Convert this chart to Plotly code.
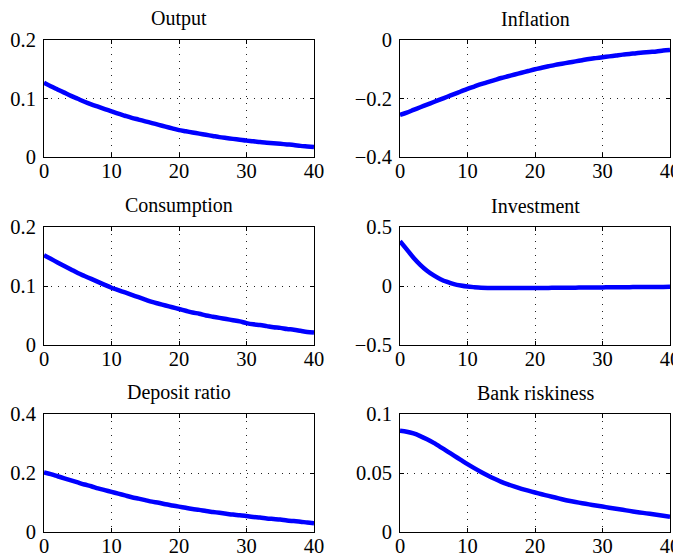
import plotly.graph_objects as go

periods = list(range(41))

titles = ["Output", "Inflation", "Consumption", "Investment", "Deposit ratio", "Bank riskiness"]

output = [0.127, 0.121, 0.1155, 0.110, 0.1045, 0.0995, 0.0945, 0.090, 0.086, 0.082,
          0.078, 0.074, 0.0705, 0.067, 0.064, 0.061, 0.058, 0.055, 0.052, 0.049,
          0.046, 0.044, 0.042, 0.040, 0.038, 0.036, 0.034, 0.0325, 0.031, 0.0295,
          0.028, 0.027, 0.0255, 0.0245, 0.0235, 0.0225, 0.0215, 0.0205, 0.019, 0.018, 0.017]

inflation = [-0.256, -0.248, -0.239, -0.230, -0.221, -0.212, -0.203, -0.194, -0.185, -0.176,
             -0.167, -0.159, -0.151, -0.144, -0.137, -0.130, -0.124, -0.118, -0.112, -0.106,
             -0.100, -0.095, -0.090, -0.085, -0.081, -0.077, -0.073, -0.069, -0.065, -0.062,
             -0.059, -0.056, -0.053, -0.050, -0.048, -0.045, -0.043, -0.041, -0.039, -0.036, -0.034]

consumption = [0.152, 0.146, 0.140, 0.134, 0.128, 0.122, 0.117, 0.112, 0.107, 0.102,
               0.097, 0.093, 0.089, 0.085, 0.081, 0.077, 0.073, 0.070, 0.067, 0.064,
               0.061, 0.058, 0.055, 0.053, 0.050, 0.048, 0.046, 0.044, 0.042, 0.040,
               0.037, 0.035, 0.034, 0.032, 0.030, 0.029, 0.027, 0.026, 0.024, 0.022, 0.021]

investment = [0.380, 0.310, 0.240, 0.180, 0.130, 0.090, 0.058, 0.034, 0.016, 0.004,
              -0.005, -0.010, -0.014, -0.016, -0.017, -0.018, -0.018, -0.018, -0.018, -0.017,
              -0.017, -0.016, -0.016, -0.015, -0.015, -0.014, -0.014, -0.013, -0.013, -0.012,
              -0.012, -0.011, -0.011, -0.010, -0.010, -0.009, -0.009, -0.008, -0.008, -0.008, -0.007]

deposit_ratio = [0.202, 0.196, 0.189, 0.182, 0.175, 0.168, 0.161, 0.155, 0.148, 0.142,
                 0.136, 0.130, 0.124, 0.118, 0.113, 0.108, 0.103, 0.099, 0.094, 0.090,
                 0.086, 0.082, 0.078, 0.075, 0.071, 0.068, 0.065, 0.062, 0.059, 0.057,
                 0.054, 0.051, 0.049, 0.046, 0.044, 0.042, 0.039, 0.037, 0.035, 0.032, 0.030]

bank_riskiness = [0.0858, 0.0850, 0.0835, 0.0813, 0.0786, 0.0755, 0.0720, 0.0684, 0.0647, 0.0611,
                  0.0575, 0.0541, 0.0509, 0.0479, 0.0451, 0.0425, 0.0403, 0.0384, 0.0366, 0.0350,
                  0.0335, 0.0320, 0.0306, 0.0292, 0.0278, 0.0265, 0.0254, 0.0244, 0.0234, 0.0225,
                  0.0216, 0.0206, 0.0197, 0.0188, 0.0179, 0.0170, 0.0162, 0.0154, 0.0146, 0.0138, 0.0130]

series = [output, inflation, consumption, investment, deposit_ratio, bank_riskiness]

x_ticks = [0, 10, 20, 30, 40]
y_ticks = [
    [0, 0.1, 0.2],
    [-0.4, -0.2, 0],
    [0, 0.1, 0.2],
    [-0.5, 0, 0.5],
    [0, 0.2, 0.4],
    [0, 0.05, 0.1],
]
y_tick_labels = [
    ["0", "0.1", "0.2"],
    ["\u22120.4", "\u22120.2", "0"],
    ["0", "0.1", "0.2"],
    ["\u22120.5", "0", "0.5"],
    ["0", "0.2", "0.4"],
    ["0", "0.05", "0.1"],
]

# page body has an 8px margin, so the figure starts at (8, 8) of the window
OFF = 8
W, H = 681 - OFF, 560 - OFF
col_px = [(44 - OFF, 314 - OFF), (400 - OFF, 670 - OFF)]
row_px = [(40 - OFF, 157 - OFF), (227 - OFF, 345 - OFF), (414 - OFF, 532 - OFF)]

FONT = "Liberation Serif, Times New Roman, serif"

fig = go.Figure()
layout = dict(
    template="none",
    width=W, height=H,
    margin=dict(l=0, r=0, t=0, b=0, pad=0, autoexpand=False),
    paper_bgcolor="white", plot_bgcolor="white",
    showlegend=False,
    font=dict(family=FONT, size=20, color="black"),
    annotations=[],
)

for i, (title, ys) in enumerate(zip(titles, series)):
    r, c = divmod(i, 2)
    n = i + 1
    xa = f"x{n}" if n > 1 else "x"
    ya = f"y{n}" if n > 1 else "y"
    fig.add_trace(go.Scatter(x=periods, y=ys, mode="lines",
                             line=dict(color="#0000ff", width=4.5, shape="spline", smoothing=0.8),
                             xaxis=xa, yaxis=ya, hoverinfo="skip", cliponaxis=True))
    x0, x1 = col_px[c]
    t0, t1 = row_px[r]
    xdom = [x0 / W, x1 / W]
    ydom = [1 - t1 / H, 1 - t0 / H]
    axis_common = dict(
        automargin=False,
        showline=True, linecolor="black", linewidth=1, mirror="ticks",
        ticks="inside", ticklen=4, tickcolor="black", tickwidth=1,
        showgrid=True, gridcolor="#222222", gridwidth=1, griddash="1px,6px",
        zeroline=False, tickfont=dict(family=FONT, size=20.5, color="black"),
        fixedrange=True, layer="below traces", ticklabeloverflow="allow",
    )
    layout[f"xaxis{n}" if n > 1 else "xaxis"] = dict(
        axis_common, domain=xdom, anchor=ya, range=[0, 40],
        tickvals=x_ticks, ticktext=[str(v) for v in x_ticks], ticklabelstandoff=-5,
    )
    layout[f"yaxis{n}" if n > 1 else "yaxis"] = dict(
        axis_common, domain=ydom, anchor=xa,
        range=[y_ticks[i][0], y_ticks[i][-1]],
        tickvals=y_ticks[i], ticktext=y_tick_labels[i], ticklabelstandoff=3,
    )
    layout["annotations"].append(dict(
        text=title, x=(xdom[0] + xdom[1]) / 2, y=ydom[1],
        xref="paper", yref="paper", xanchor="center", yanchor="bottom",
        yshift=8, showarrow=False, font=dict(family=FONT, size=20, color="black"),
    ))

fig.update_layout(**layout)
fig.write_html("out.html")
